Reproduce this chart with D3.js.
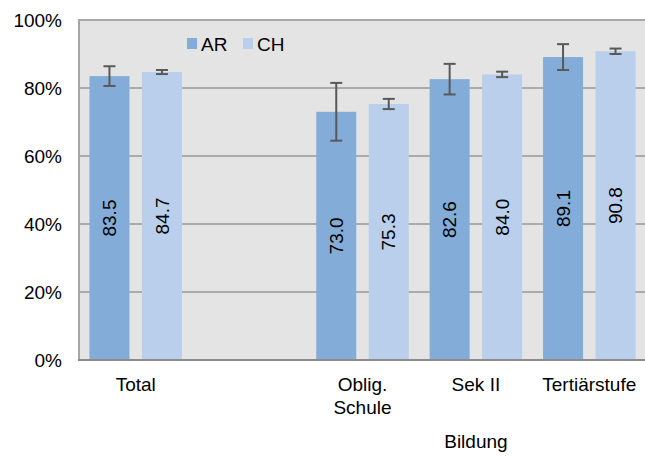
<!DOCTYPE html>
<html><head><meta charset="utf-8">
<script src="https://cdn.jsdelivr.net/npm/d3@7"></script>
<style>body{margin:0;background:#fff;} text{font-family:"Liberation Sans",Arial,sans-serif;fill:#000;}</style>
</head><body>
<svg id="c" width="645" height="456"></svg>
<script>
const categories = ["Total", "", "Oblig.\nSchule", "Sek II", "Tertiärstufe"];
const seriesNames = ["AR", "CH"];
const arValues = [83.5, null, 73.0, 82.6, 89.1];
const chValues = [84.7, null, 75.3, 84.0, 90.8];
const arErrors = [2.9, null, 8.5, 4.5, 3.8];
const chErrors = [0.6, null, 1.5, 0.8, 0.8];
const yTicks = [0, 20, 40, 60, 80, 100];
const groupLabel = "Bildung";

const colors = {AR: "#83ACD8", CH: "#B9CFEB"};
const FS = 19;
const svg = d3.select("#c");
const pLeft = 79, pRight = 646, pTop = 20, pBottom = 360;

const x = d3.scaleBand().domain(d3.range(categories.length)).range([pLeft, pRight]).paddingInner(0).paddingOuter(0);
const y = d3.scaleLinear().domain([0, 100]).range([pBottom, pTop]);

svg.append("rect").attr("x", pLeft).attr("y", pTop).attr("width", pRight - pLeft).attr("height", pBottom - pTop).attr("fill", "#E4E4E4");

// gridlines
svg.append("g").selectAll("line").data(yTicks.filter(d => d > 0 && d < 100)).join("line")
  .attr("x1", pLeft).attr("x2", pRight).attr("y1", d => y(d)).attr("y2", d => y(d))
  .attr("stroke", "#ABABAB").attr("stroke-width", 2);

// border top/left
svg.append("path").attr("d", `M${pLeft},${pBottom}V${pTop}H${pRight}`).attr("fill", "none").attr("stroke", "#A6A6A6").attr("stroke-width", 2);

const barW = 40, gap = 12.5;
function barX(i, s) {
  const c = x(i) + x.bandwidth() / 2;
  return s === "AR" ? c - gap / 2 - barW : c + gap / 2;
}
const rows = [];
categories.forEach((c, i) => {
  if (arValues[i] != null) rows.push({i, s: "AR", v: arValues[i], e: arErrors[i]});
  if (chValues[i] != null) rows.push({i, s: "CH", v: chValues[i], e: chErrors[i]});
});

svg.append("g").selectAll("rect").data(rows).join("rect")
  .attr("x", d => barX(d.i, d.s)).attr("width", barW)
  .attr("y", d => y(d.v)).attr("height", d => y(0) - y(d.v))
  .attr("fill", d => colors[d.s]);

// value labels
svg.append("g").selectAll("text").data(rows).join("text")
  .attr("transform", d => `translate(${barX(d.i, d.s) + barW / 2},${(y(d.v) + y(0)) / 2}) rotate(-90)`)
  .attr("text-anchor", "middle").attr("dy", "0.35em").attr("font-size", FS)
  .text(d => d.v.toFixed(1));

// error bars
const eb = svg.append("g").attr("stroke", "#595959").attr("stroke-width", 2);
rows.forEach(d => {
  const cx = barX(d.i, d.s) + barW / 2;
  eb.append("line").attr("x1", cx).attr("x2", cx).attr("y1", y(d.v + d.e)).attr("y2", y(d.v - d.e));
  eb.append("line").attr("x1", cx - 6).attr("x2", cx + 6).attr("y1", y(d.v + d.e)).attr("y2", y(d.v + d.e));
  eb.append("line").attr("x1", cx - 6).attr("x2", cx + 6).attr("y1", y(d.v - d.e)).attr("y2", y(d.v - d.e));
});

// x axis line
svg.append("line").attr("x1", pLeft - 1).attr("x2", pRight).attr("y1", pBottom).attr("y2", pBottom).attr("stroke", "#8C8C8C").attr("stroke-width", 2);

// y axis labels
const yAxis = d3.axisLeft(y).tickValues(yTicks).tickFormat(d => d + "%").tickSize(0).tickPadding(17);
const ya = svg.append("g").attr("transform", `translate(${pLeft},0)`).call(yAxis);
ya.select(".domain").remove();
ya.selectAll("text").attr("font-size", FS).attr("font-family", '"Liberation Sans",Arial,sans-serif').attr("fill", "#000");

// x labels
const xl = svg.append("g");
categories.forEach((c, i) => {
  const lines = c.split("\n");
  const t = xl.append("text").attr("x", x(i) + x.bandwidth() / 2).attr("y", 391).attr("text-anchor", "middle").attr("font-size", FS);
  lines.forEach((l, k) => t.append("tspan").attr("x", x(i) + x.bandwidth() / 2).attr("dy", k ? 23 : 0).text(l));
});
svg.append("text").attr("x", (x(2) + pRight) / 2).attr("y", 448).attr("text-anchor", "middle").attr("font-size", FS).text(groupLabel);

// legend
const lg = svg.append("g").attr("transform", "translate(187,38)");
const lgX = [0, 56];
seriesNames.forEach((s, k) => {
  lg.append("rect").attr("x", lgX[k]).attr("y", 0).attr("width", 10).attr("height", 11).attr("fill", colors[s]);
  lg.append("text").attr("x", lgX[k] + 14).attr("y", 13).attr("font-size", FS).text(s);
});
</script>
</body></html>
